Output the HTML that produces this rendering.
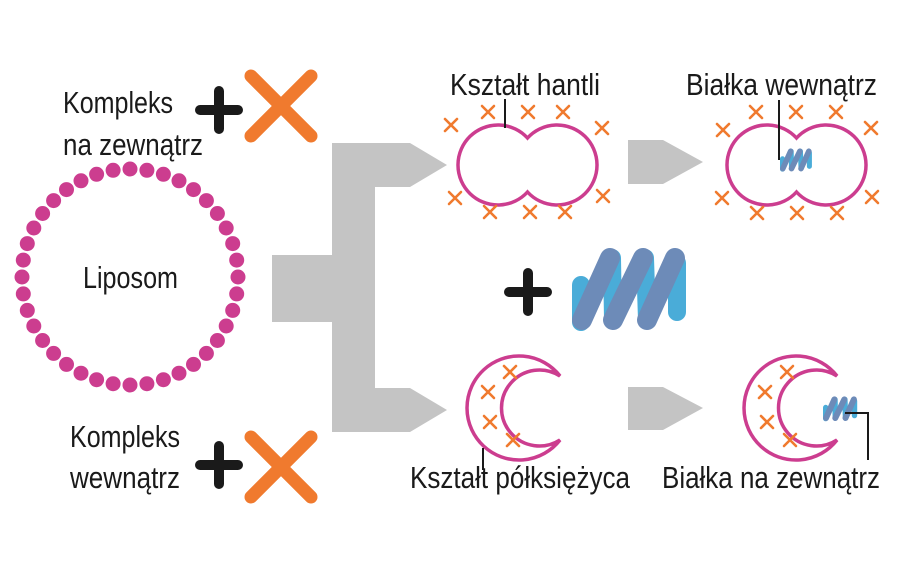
<!DOCTYPE html>
<html><head><meta charset="utf-8"><style>
html,body{margin:0;padding:0;background:#fff;}
svg{display:block}
text{font-family:"Liberation Sans Narrow","Liberation Sans",sans-serif;fill:#1a1a1a;font-size:31px}
</style></head><body>
<svg width="900" height="578" viewBox="0 0 900 578" xmlns="http://www.w3.org/2000/svg">
<defs>
<g id="sx"><path d="M-6,-6L6,6M6,-6L-6,6" stroke="#f07a2e" stroke-width="2.6" stroke-linecap="round"/></g>
<g id="bigx"><path d="M-30,-30L30,30M30,-30L-30,30" stroke="#f07a2e" stroke-width="13" stroke-linecap="round"/></g>
<g id="plus"><path d="M-19,0H19M0,-19V19" stroke="#1a1a1a" stroke-width="10" stroke-linecap="round"/></g>
<g id="dumb"><path d="M527.5,138 A40,40 0 1 0 527.5,192 A40,40 0 1 0 527.5,138 Z" fill="none" stroke="#cc3d8f" stroke-width="3.5"/></g>
<g id="cres"><path d="M560,376 A52,52 0 1 0 560,440 A38,38 0 1 1 560,376 Z" fill="none" stroke="#cc3d8f" stroke-width="3.5" stroke-linejoin="miter"/></g>
<g id="prot">
<path d="M581,285V322M677,263V312" stroke="#4aacd8" stroke-width="18" stroke-linecap="round"/>
<path d="M612,258L613,320M645,258L647,320" stroke="#4aacd8" stroke-width="18" stroke-linecap="round"/>
<path d="M582,320L610,258M613,320L643,258M647,320L675,258" stroke="#6d8bb8" stroke-width="20" stroke-linecap="round"/>
</g>
</defs>

<path d="M272,255H332V143H410L447,165L410,187H375V388H410L447,410L410,432H332V322H272Z" fill="#c4c4c4"/>
<path d="M628,140H663L703,162L663,184H628Z" fill="#c4c4c4"/>
<path d="M628,387H663L703,408L663,430H628Z" fill="#c4c4c4"/>

<g fill="#cc3d8f">
<circle cx="238" cy="277" r="7.5"/><circle cx="236.7" cy="293.9" r="7.5"/><circle cx="232.7" cy="310.4" r="7.5"/><circle cx="226.2" cy="326" r="7.5"/><circle cx="217.4" cy="340.5" r="7.5"/><circle cx="206.4" cy="353.4" r="7.5"/><circle cx="193.5" cy="364.4" r="7.5"/><circle cx="179" cy="373.2" r="7.5"/><circle cx="163.4" cy="379.7" r="7.5"/><circle cx="146.9" cy="383.7" r="7.5"/>
<circle cx="130" cy="385" r="7.5"/><circle cx="113.1" cy="383.7" r="7.5"/><circle cx="96.6" cy="379.7" r="7.5"/><circle cx="81" cy="373.2" r="7.5"/><circle cx="66.5" cy="364.4" r="7.5"/><circle cx="53.6" cy="353.4" r="7.5"/><circle cx="42.6" cy="340.5" r="7.5"/><circle cx="33.8" cy="326" r="7.5"/><circle cx="27.3" cy="310.4" r="7.5"/><circle cx="23.3" cy="293.9" r="7.5"/>
<circle cx="22" cy="277" r="7.5"/><circle cx="23.3" cy="260.1" r="7.5"/><circle cx="27.3" cy="243.6" r="7.5"/><circle cx="33.8" cy="228" r="7.5"/><circle cx="42.6" cy="213.5" r="7.5"/><circle cx="53.6" cy="200.6" r="7.5"/><circle cx="66.5" cy="189.6" r="7.5"/><circle cx="81" cy="180.8" r="7.5"/><circle cx="96.6" cy="174.3" r="7.5"/><circle cx="113.1" cy="170.3" r="7.5"/>
<circle cx="130" cy="169" r="7.5"/><circle cx="146.9" cy="170.3" r="7.5"/><circle cx="163.4" cy="174.3" r="7.5"/><circle cx="179" cy="180.8" r="7.5"/><circle cx="193.5" cy="189.6" r="7.5"/><circle cx="206.4" cy="200.6" r="7.5"/><circle cx="217.4" cy="213.5" r="7.5"/><circle cx="226.2" cy="228" r="7.5"/><circle cx="232.7" cy="243.6" r="7.5"/><circle cx="236.7" cy="260.1" r="7.5"/>
</g>
<text x="83" y="288" textLength="95" lengthAdjust="spacingAndGlyphs">Liposom</text>

<text x="63" y="113" textLength="110" lengthAdjust="spacingAndGlyphs">Kompleks</text>
<text x="63" y="155" textLength="140" lengthAdjust="spacingAndGlyphs">na zewnątrz</text>
<text x="70" y="447" textLength="110" lengthAdjust="spacingAndGlyphs">Kompleks</text>
<text x="70" y="488" textLength="110" lengthAdjust="spacingAndGlyphs">wewnątrz</text>
<use href="#plus" x="219" y="110"/>
<use href="#bigx" x="281" y="106"/>
<use href="#plus" x="219" y="465"/>
<use href="#bigx" x="281" y="467"/>

<use href="#dumb"/>
<line x1="505" y1="99" x2="505" y2="128" stroke="#1a1a1a" stroke-width="2"/>
<text x="450" y="95" textLength="150" lengthAdjust="spacingAndGlyphs">Kształt hantli</text>
<g>
<use href="#sx" x="451" y="125"/><use href="#sx" x="488" y="112"/><use href="#sx" x="528" y="112"/><use href="#sx" x="563" y="112"/><use href="#sx" x="602" y="128"/>
<use href="#sx" x="455" y="198"/><use href="#sx" x="490" y="212"/><use href="#sx" x="530" y="212"/><use href="#sx" x="565" y="212"/><use href="#sx" x="603" y="196"/>
</g>

<use href="#dumb" x="269"/>
<g transform="translate(780,149) scale(0.28) translate(-572,-250)"><use href="#prot"/></g>
<line x1="779" y1="100" x2="779" y2="160" stroke="#1a1a1a" stroke-width="2"/>
<text x="686" y="95" textLength="191" lengthAdjust="spacingAndGlyphs">Białka wewnątrz</text>
<g>
<use href="#sx" x="723" y="130"/><use href="#sx" x="756" y="112"/><use href="#sx" x="796" y="112"/><use href="#sx" x="836" y="112"/><use href="#sx" x="871" y="128"/>
<use href="#sx" x="722" y="198"/><use href="#sx" x="757" y="213"/><use href="#sx" x="797" y="213"/><use href="#sx" x="837" y="213"/><use href="#sx" x="872" y="197"/>
</g>

<use href="#plus" x="528" y="292"/>
<use href="#prot"/>

<use href="#cres"/>
<use href="#sx" x="510" y="372"/><use href="#sx" x="488" y="392"/><use href="#sx" x="490" y="422"/><use href="#sx" x="513" y="440"/>
<line x1="483" y1="448" x2="483" y2="470" stroke="#1a1a1a" stroke-width="2"/>
<text x="410" y="488" textLength="220" lengthAdjust="spacingAndGlyphs">Kształt półksiężyca</text>

<use href="#cres" x="277"/>
<use href="#sx" x="787" y="372"/><use href="#sx" x="765" y="392"/><use href="#sx" x="767" y="422"/><use href="#sx" x="790" y="440"/>
<g transform="translate(823,397) scale(0.3) translate(-572,-250)"><use href="#prot"/></g>
<path d="M845,413H868V460" fill="none" stroke="#1a1a1a" stroke-width="2"/>
<text x="662" y="488" textLength="218" lengthAdjust="spacingAndGlyphs">Białka na zewnątrz</text>
</svg>
</body></html>
